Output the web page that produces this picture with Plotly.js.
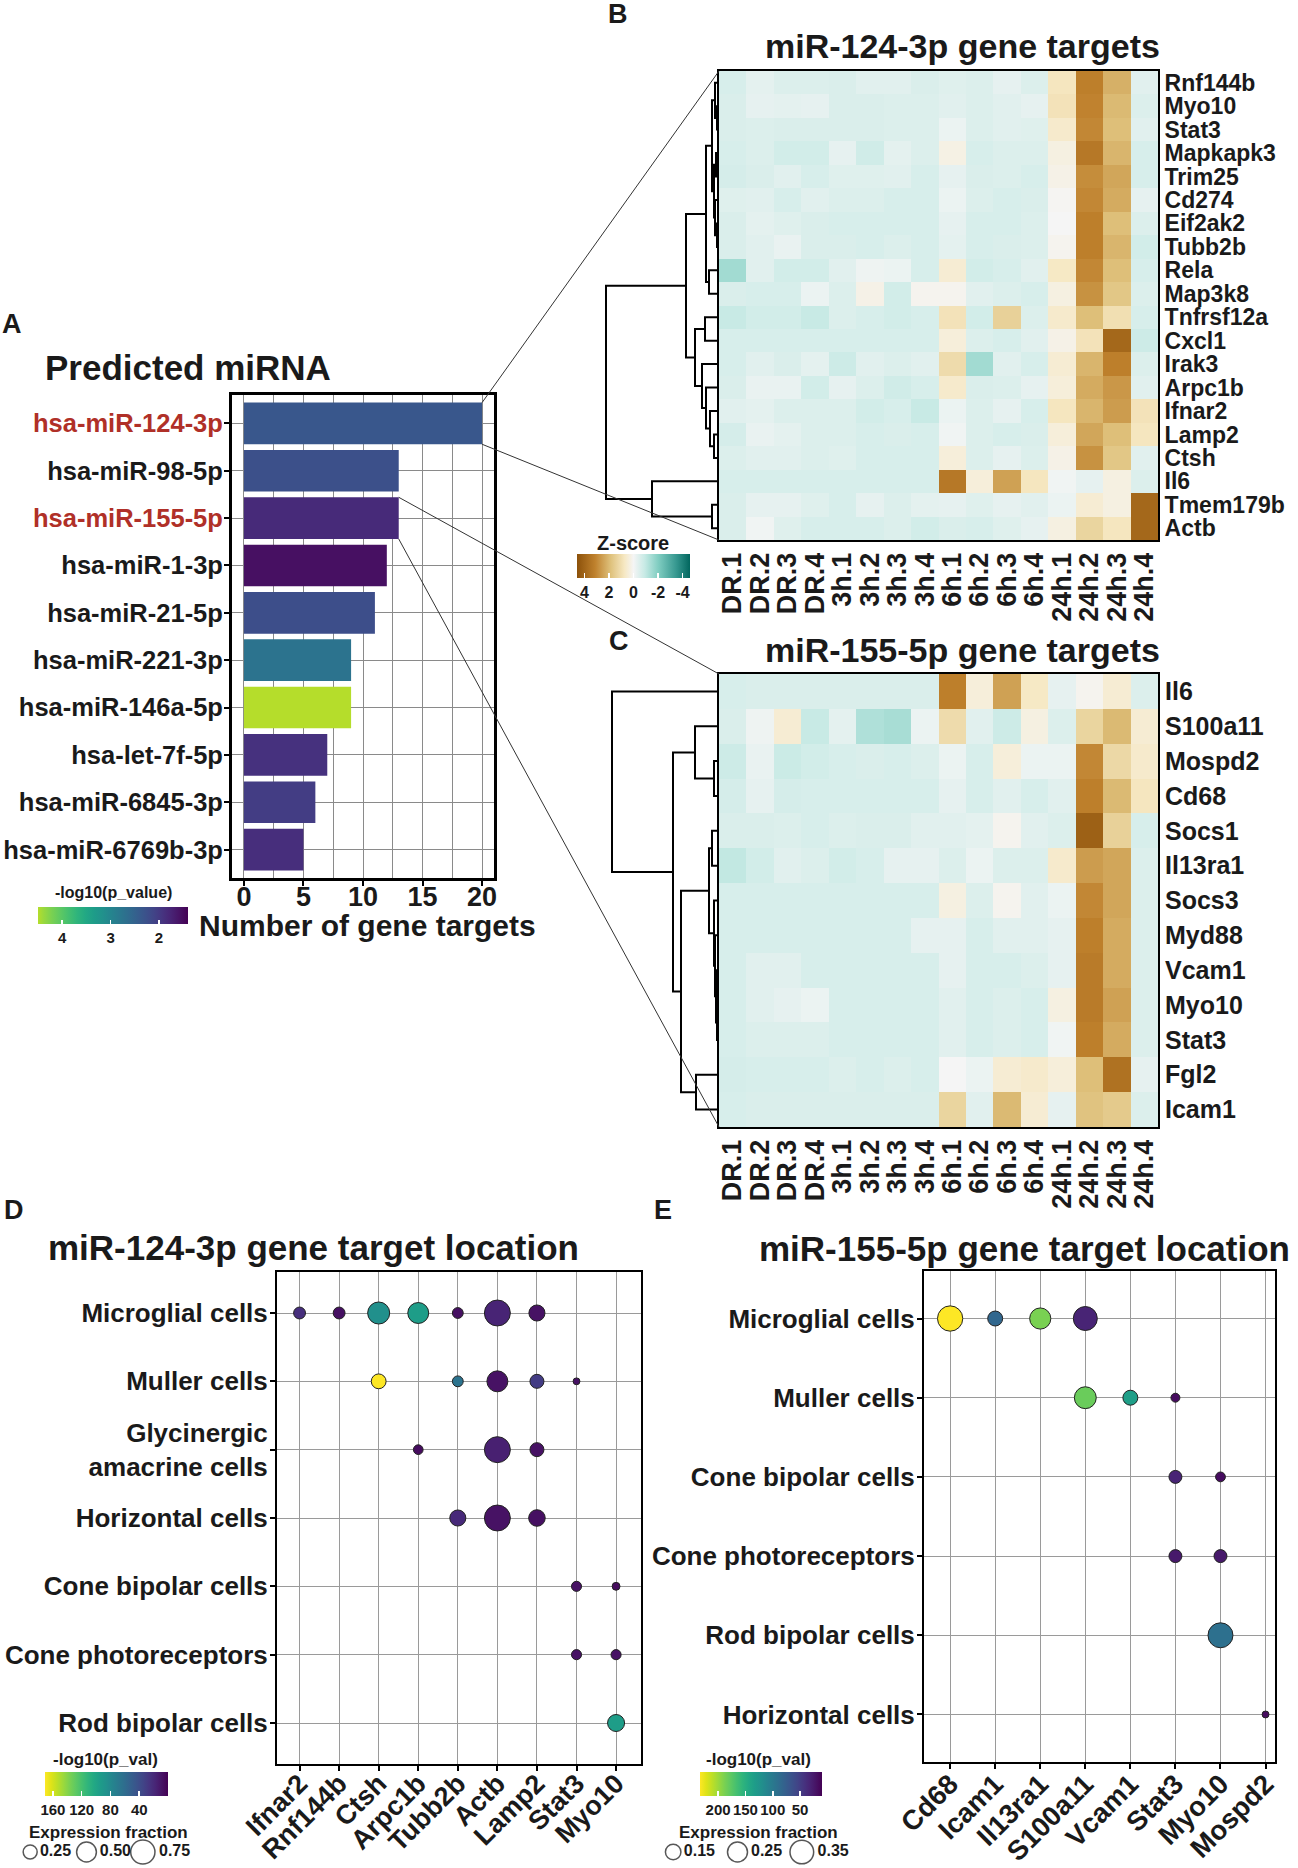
<!DOCTYPE html>
<html><head><meta charset="utf-8">
<script src="https://cdn.plot.ly/plotly-3.0.1.min.js"></script>
<style>html,body{margin:0;padding:0;background:#fff}#chart{width:1298px;height:1868px}</style>
</head><body><div id="chart"></div>
<script>
// ---------------- Panel A: predicted miRNA ----------------
const mirnas = ['hsa-miR-124-3p','hsa-miR-98-5p','hsa-miR-155-5p','hsa-miR-1-3p','hsa-miR-21-5p','hsa-miR-221-3p','hsa-miR-146a-5p','hsa-let-7f-5p','hsa-miR-6845-3p','hsa-miR-6769b-3p'];
const mirnaTargets = [20,13,13,12,11,9,9,7,6,5];
const mirnaLogP = [2.35,2.25,1.82,1.55,2.23,2.74,4.5,1.9,2.03,1.86];
const highlighted = ['hsa-miR-124-3p','hsa-miR-155-5p'];
const targetTicks = [0,5,10,15,20];
const logPTicksA = [4,3,2];

// ---------------- Panels B / C: heatmaps ----------------
const samples = ['DR.1','DR.2','DR.3','DR.4','3h.1','3h.2','3h.3','3h.4','6h.1','6h.2','6h.3','6h.4','24h.1','24h.2','24h.3','24h.4'];
const genesB = ['Rnf144b','Myo10','Stat3','Mapkapk3','Trim25','Cd274','Eif2ak2','Tubb2b','Rela','Map3k8','Tnfrsf12a','Cxcl1','Irak3','Arpc1b','Ifnar2','Lamp2','Ctsh','Il6','Tmem179b','Actb'];
const zB = [
 [-0.6,-0.35,-0.5,-0.5,-0.55,-0.4,-0.4,-0.55,-0.45,-0.5,-0.3,-0.5,0.8,3.2,2.2,-0.4],
 [-0.55,-0.3,-0.35,-0.3,-0.55,-0.55,-0.5,-0.5,-0.4,-0.5,-0.4,-0.3,0.9,3.1,2.0,-0.5],
 [-0.55,-0.5,-0.55,-0.55,-0.55,-0.55,-0.5,-0.5,-0.2,-0.5,-0.4,-0.45,0.6,3.0,1.9,-0.4],
 [-0.6,-0.5,-0.7,-0.7,-0.3,-0.75,-0.35,-0.5,0.25,-0.6,-0.5,-0.5,0.3,3.4,2.1,-0.6],
 [-0.65,-0.55,-0.4,-0.6,-0.45,-0.45,-0.4,-0.6,-0.3,-0.55,-0.5,-0.6,0.2,2.9,2.4,-0.6],
 [-0.45,-0.4,-0.6,-0.4,-0.5,-0.5,-0.6,-0.6,-0.2,-0.5,-0.6,-0.55,0.05,3.0,2.3,-0.3],
 [-0.55,-0.35,-0.45,-0.55,-0.6,-0.6,-0.6,-0.6,-0.3,-0.6,-0.6,-0.5,0.0,3.2,1.9,-0.5],
 [-0.55,-0.4,-0.25,-0.55,-0.55,-0.6,-0.5,-0.6,-0.35,-0.6,-0.55,-0.5,0.1,3.2,2.1,-0.7],
 [-1.5,-0.4,-0.7,-0.7,-0.4,-0.15,-0.2,-0.6,0.5,-0.7,-0.6,-0.4,0.7,3.0,1.9,-0.6],
 [-0.55,-0.6,-0.6,-0.2,-0.5,0.2,-0.7,0.1,0.1,-0.4,-0.5,-0.6,0.3,2.8,1.7,-0.5],
 [-0.9,-0.7,-0.7,-0.9,-0.5,-0.6,-0.7,-0.6,0.9,-0.7,1.4,-0.5,0.6,1.9,1.0,-0.6],
 [-0.6,-0.6,-0.6,-0.6,-0.6,-0.6,-0.6,-0.6,0.4,-0.5,-0.6,-0.4,0.2,0.9,3.9,-0.8],
 [-0.6,-0.4,-0.55,-0.35,-0.8,-0.4,-0.5,-0.4,1.1,-1.5,-0.4,-0.6,0.5,2.1,3.2,-0.5],
 [-0.55,-0.25,-0.25,-0.7,-0.3,-0.5,-0.75,-0.6,0.6,-0.55,-0.5,-0.3,0.4,2.3,2.7,-0.4],
 [-0.4,-0.35,-0.5,-0.5,-0.5,-0.7,-0.6,-0.9,-0.2,-0.5,-0.3,-0.6,0.8,2.1,2.6,0.9],
 [-0.65,-0.25,-0.35,-0.5,-0.5,-0.6,-0.55,-0.6,-0.1,-0.5,-0.6,-0.55,0.4,2.4,1.9,0.8],
 [-0.5,-0.4,-0.4,-0.5,-0.45,-0.6,-0.6,-0.6,0.4,-0.5,-0.3,-0.5,0.2,2.8,1.7,-0.4],
 [-0.6,-0.6,-0.6,-0.6,-0.6,-0.6,-0.6,-0.6,3.4,0.4,2.5,0.8,-0.1,-0.3,0.3,-0.5],
 [-0.55,-0.3,-0.3,-0.45,-0.6,-0.3,-0.5,-0.35,-0.3,-0.45,-0.3,-0.4,-0.2,0.5,0.3,3.9],
 [-0.55,-0.1,-0.45,-0.6,-0.6,-0.6,-0.5,-0.7,-0.55,-0.6,-0.45,-0.3,0.3,1.3,0.8,3.9]
];
const genesC = ['Il6','S100a11','Mospd2','Cd68','Socs1','Il13ra1','Socs3','Myd88','Vcam1','Myo10','Stat3','Fgl2','Icam1'];
const zC = [
 [-0.6,-0.55,-0.55,-0.55,-0.55,-0.55,-0.55,-0.55,3.2,0.4,2.5,0.7,-0.3,0.1,0.5,-0.5],
 [-0.55,-0.15,0.5,-0.9,-0.35,-1.3,-1.4,-0.2,1.1,-0.4,-0.8,0.3,-0.5,1.3,2.0,0.5],
 [-0.8,-0.25,-0.85,-0.7,-0.6,-0.55,-0.6,-0.5,-0.2,-0.6,0.4,-0.2,-0.2,3.0,1.2,0.6],
 [-0.65,-0.3,-0.65,-0.6,-0.6,-0.6,-0.6,-0.6,-0.3,-0.6,-0.4,-0.6,-0.4,3.2,2.0,0.8],
 [-0.55,-0.55,-0.5,-0.6,-0.5,-0.55,-0.55,-0.4,-0.4,-0.35,0.1,-0.4,-0.5,4.1,1.4,-0.6],
 [-1.0,-0.7,-0.4,-0.5,-0.7,-0.6,-0.3,-0.3,-0.5,-0.2,-0.5,-0.5,0.6,2.6,2.4,-0.5],
 [-0.6,-0.6,-0.6,-0.6,-0.6,-0.6,-0.6,-0.6,0.3,-0.5,0.1,-0.4,-0.2,3.0,2.4,-0.5],
 [-0.6,-0.6,-0.6,-0.6,-0.6,-0.6,-0.6,-0.3,-0.3,-0.6,-0.4,-0.4,-0.3,3.2,2.3,-0.5],
 [-0.6,-0.4,-0.4,-0.6,-0.6,-0.6,-0.6,-0.6,-0.3,-0.6,-0.6,-0.5,-0.3,3.3,2.3,-0.5],
 [-0.6,-0.4,-0.3,-0.2,-0.6,-0.6,-0.6,-0.6,-0.4,-0.6,-0.5,-0.6,0.3,3.3,2.5,-0.5],
 [-0.6,-0.5,-0.5,-0.5,-0.6,-0.6,-0.6,-0.6,-0.4,-0.6,-0.5,-0.6,-0.1,3.2,2.3,-0.5],
 [-0.65,-0.6,-0.6,-0.6,-0.5,-0.6,-0.5,-0.6,0.0,-0.2,0.5,0.6,0.4,1.9,3.6,-0.3],
 [-0.6,-0.55,-0.55,-0.55,-0.55,-0.55,-0.55,-0.55,1.3,-0.4,2.0,0.5,-0.3,1.8,1.6,-0.5]
];
const zTicks = [4,2,0,-2,-4];
// row dendrograms (hclust-style merges: negative = row, positive = earlier merge)
const mergeB = [[-2,-3],[-1,1],[-4,-5],[-7,-8],[-6,4],[3,5],[2,6],[-9,-10],[7,8],[-11,-12],[-16,-17],[-15,11],[-14,12],[-13,13],[10,14],[9,15],[-19,-20],[-18,17],[16,18]];
const heightB = [2,4,3,2,4,5,7,10,13,14,5,9,13,17,24,33,7,67,113];
const mergeC = [[-3,-4],[-2,1],[-10,-11],[-9,3],[-8,4],[-7,5],[-5,-6],[7,6],[-12,-13],[8,9],[2,10],[-1,11]];
const heightC = [5,24,2,3,4,5,7,10,23,38,46,107];

// ---------------- Panel D: miR-124-3p target location ----------------
const genesD = ['Ifnar2','Rnf144b','Ctsh','Arpc1b','Tubb2b','Actb','Lamp2','Stat3','Myo10'];
const cellsD = ['Microglial cells','Muller cells','Glycinergic amacrine cells','Horizontal cells','Cone bipolar cells','Cone photoreceptors','Rod bipolar cells'];
const dCell = ['Microglial cells','Microglial cells','Microglial cells','Microglial cells','Microglial cells','Microglial cells','Microglial cells',
  'Muller cells','Muller cells','Muller cells','Muller cells','Muller cells',
  'Glycinergic amacrine cells','Glycinergic amacrine cells','Glycinergic amacrine cells',
  'Horizontal cells','Horizontal cells','Horizontal cells',
  'Cone bipolar cells','Cone bipolar cells','Cone photoreceptors','Cone photoreceptors','Rod bipolar cells'];
const dGene = ['Ifnar2','Rnf144b','Ctsh','Arpc1b','Tubb2b','Actb','Lamp2',
  'Ctsh','Tubb2b','Actb','Lamp2','Stat3',
  'Arpc1b','Actb','Lamp2',
  'Tubb2b','Actb','Lamp2',
  'Stat3','Myo10','Stat3','Myo10','Myo10'];
const dFrac = [0.18,0.18,0.62,0.56,0.15,0.86,0.33, 0.28,0.15,0.56,0.25,0.06, 0.12,0.86,0.25, 0.33,0.86,0.35, 0.13,0.08,0.13,0.13,0.37];
const dLogP = [23,7,85,95,7,17,8, 171,65,8,30,8, 5,15,8, 20,8,7, 8,5,8,8,95];
const pTicksD = [160,120,80,40];
const fracLegendD = [0.25,0.50,0.75];

// ---------------- Panel E: miR-155-5p target location ----------------
const genesE = ['Cd68','Icam1','Il13ra1','S100a11','Vcam1','Stat3','Myo10','Mospd2'];
const cellsE = ['Microglial cells','Muller cells','Cone bipolar cells','Cone photoreceptors','Rod bipolar cells','Horizontal cells'];
const eCell = ['Microglial cells','Microglial cells','Microglial cells','Microglial cells',
  'Muller cells','Muller cells','Muller cells',
  'Cone bipolar cells','Cone bipolar cells','Cone photoreceptors','Cone photoreceptors',
  'Rod bipolar cells','Horizontal cells'];
const eGene = ['Cd68','Icam1','Il13ra1','S100a11','S100a11','Vcam1','Stat3','Stat3','Myo10','Stat3','Myo10','Myo10','Mospd2'];
const eFrac = [0.40,0.14,0.28,0.36, 0.30,0.14,0.05, 0.105,0.06,0.105,0.105, 0.39,0.03];
const eLogP = [233,84,188,32, 182,135,17, 32,17,25,25, 92,17];
const pTicksE = [200,150,100,50];
const fracLegendE = [0.15,0.25,0.35];

// ================= layout helpers =================
const W = 1298, H = 1868;
const XD = (a,b)=>[a/W, b/W];
const YD = (t,b)=>[1-b/H, 1-t/H];
const FONT = 'Liberation Sans, Arial, Helvetica, sans-serif';
const INK = '#1a1a1a';
const fnt = (s, c)=>({family:FONT, size:s, color:c||INK, weight:'bold'});
const RED = '#b03028';
const viridis = [[0,'#440154'],[0.05,'#471365'],[0.1,'#482475'],[0.15,'#463480'],[0.2,'#414487'],[0.25,'#3b528b'],[0.3,'#355f8d'],[0.35,'#2f6c8e'],[0.4,'#2a788e'],[0.45,'#25848e'],[0.5,'#21918c'],[0.55,'#1e9c89'],[0.6,'#22a884'],[0.65,'#2fb47c'],[0.7,'#44bf70'],[0.75,'#5ec962'],[0.8,'#7ad151'],[0.85,'#9bd93c'],[0.9,'#bddf26'],[0.95,'#dfe318'],[1,'#fde725']];
const rev = cs => cs.map(([t,c])=>[1-t,c]).reverse();
const viridisA = viridis.filter(p=>p[0]<=0.85).map(([t,c])=>[t/0.88,c]).concat([[1,'#b5dd2b']]);
const brbg = [[0,'#01665e'],[0.12,'#35978f'],[0.28,'#80cdc1'],[0.4,'#c7eae5'],[0.5,'#f5f5f5'],[0.58,'#f6e8c3'],[0.7,'#dfc27d'],[0.84,'#bf812d'],[1,'#8c510a']];

// geometry (px)
const A = {l:232, r:494, t:395, b:878, xr:[-1,21], yr:[9.6,-0.6]};
const HB = {l:719, r:1158, t:71, b:540};
const HC = {l:719, r:1158, t:674, b:1127};
const DEN = {l:599, range:[120,0]};
const PD = {l:277, r:641, t:1272, b:1764, xr:[-0.57,8.63]};
const PE = {l:924, r:1275, t:1271, b:1762, xr:[-0.58,7.21]};

function dendro(merge, height){
  const pos = [], xs = [], ys = [];
  const node = c => c<0 ? {y:-c, h:0} : {y:pos[c-1], h:height[c-1]};
  merge.forEach((m,i)=>{
    const a = node(m[0]), b = node(m[1]), h = height[i];
    xs.push(a.h,h,h,b.h,null); ys.push(a.y,a.y,b.y,b.y,null);
    pos[i] = (a.y+b.y)/2;
  });
  return {xs, ys};
}
const dB = dendro(mergeB, heightB), dC = dendro(mergeC, heightC);
const idx = arr => arr.map((_,i)=>i);

const traces = [];
// A bars
traces.push({type:'bar', orientation:'h', x:mirnaTargets, y:idx(mirnas), width:0.88, xaxis:'x', yaxis:'y',
  hoverinfo:'skip',
  marker:{color:mirnaLogP.map(v=>-v), colorscale:rev(viridisA), cmin:-4.5, cmax:-1.4, line:{width:0}, showscale:true,
    colorbar:{orientation:'h', x:38/W, xanchor:'left', y:1-907/H, yanchor:'top', len:150, lenmode:'pixels', thickness:17,
      tickvals:logPTicksA.map(v=>-v), ticktext:logPTicksA.map(String), ticks:'inside', tickcolor:'#fff', ticklen:4, tickwidth:1.5,
      outlinewidth:0, xpad:0, ypad:0, tickfont:fnt(15)}}});
// B heatmap
traces.push({type:'heatmap', z:zB.map(r=>r.map(v=>-v)), x:idx(samples), y:genesB.map((_,i)=>i+1), xaxis:'x2', yaxis:'y2',
  colorscale:rev(brbg), zmin:-4.6, zmax:4.6, hoverinfo:'skip', showscale:true,
  colorbar:{orientation:'h', x:577/W, xanchor:'left', y:1-554/H, yanchor:'top', len:113, lenmode:'pixels', thickness:24,
    tickvals:zTicks.map(v=>-v), ticktext:zTicks.map(String), ticks:'inside', tickcolor:'#fff', ticklen:5, tickwidth:1.5,
    outlinewidth:0, xpad:0, ypad:0, tickfont:fnt(16)}});
traces.push({type:'scatter', mode:'lines', x:dB.xs, y:dB.ys, xaxis:'x3', yaxis:'y3', line:{color:'#000', width:2}, hoverinfo:'skip'});
// C heatmap
traces.push({type:'heatmap', z:zC.map(r=>r.map(v=>-v)), x:idx(samples), y:genesC.map((_,i)=>i+1), xaxis:'x4', yaxis:'y4',
  colorscale:rev(brbg), zmin:-4.6, zmax:4.6, hoverinfo:'skip', showscale:false});
traces.push({type:'scatter', mode:'lines', x:dC.xs, y:dC.ys, xaxis:'x5', yaxis:'y5', line:{color:'#000', width:2}, hoverinfo:'skip'});
// D dots
const SREF_D = 2*0.25/196, SREF_E = 2*0.25/400;
traces.push({type:'scatter', mode:'markers', x:dGene.map(g=>genesD.indexOf(g)), y:dCell.map(c=>cellsD.indexOf(c)), xaxis:'x6', yaxis:'y6', hoverinfo:'skip',
  marker:{size:dFrac, sizemode:'area', sizeref:SREF_D, color:dLogP.map(v=>-v), colorscale:rev(viridis), cmin:-171, cmax:0,
    line:{color:'#222', width:1}, opacity:1, showscale:true,
    colorbar:{orientation:'h', x:45/W, xanchor:'left', y:1-1772/H, yanchor:'top', len:123, lenmode:'pixels', thickness:24,
      tickvals:pTicksD.map(v=>-v), ticktext:pTicksD.map(String), ticks:'inside', tickcolor:'#fff', ticklen:5, tickwidth:1.5,
      outlinewidth:0, xpad:0, ypad:0, tickfont:fnt(15)}}});
// E dots
traces.push({type:'scatter', mode:'markers', x:eGene.map(g=>genesE.indexOf(g)), y:eCell.map(c=>cellsE.indexOf(c)), xaxis:'x7', yaxis:'y7', hoverinfo:'skip',
  marker:{size:eFrac, sizemode:'area', sizeref:SREF_E, color:eLogP.map(v=>-v), colorscale:rev(viridis), cmin:-233, cmax:-10,
    line:{color:'#222', width:1}, opacity:1, showscale:true,
    colorbar:{orientation:'h', x:700/W, xanchor:'left', y:1-1772/H, yanchor:'top', len:122, lenmode:'pixels', thickness:24,
      tickvals:pTicksE.map(v=>-v), ticktext:pTicksE.map(String), ticks:'inside', tickcolor:'#fff', ticklen:5, tickwidth:1.5,
      outlinewidth:0, xpad:0, ypad:0, tickfont:fnt(15)}}});
// size legends
traces.push({type:'scatter', mode:'markers+text', x:idx(fracLegendD), y:fracLegendD.map(()=>0), xaxis:'x8', yaxis:'y8', hoverinfo:'skip',
  text:fracLegendD.map(v=>v.toFixed(2)), textposition:'middle right', textfont:fnt(16), cliponaxis:false,
  marker:{size:fracLegendD, sizemode:'area', sizeref:SREF_D, color:'#fff', line:{color:'#111', width:1.5}}});
traces.push({type:'scatter', mode:'markers+text', x:idx(fracLegendE), y:fracLegendE.map(()=>0), xaxis:'x9', yaxis:'y9', hoverinfo:'skip',
  text:fracLegendE.map(v=>v.toFixed(2)), textposition:'middle right', textfont:fnt(16), cliponaxis:false,
  marker:{size:fracLegendE, sizemode:'area', sizeref:SREF_E, color:'#fff', line:{color:'#111', width:1.5}}});

const hidden = (dom, rng, anchor) => ({domain:dom, range:rng, anchor:anchor, visible:false, fixedrange:true});
const GRID = '#9a9a9a';

const layout = {
  width:W, height:H, margin:{l:0,r:0,t:0,b:0}, autosize:false, showlegend:false, hovermode:false,
  paper_bgcolor:'#fff', plot_bgcolor:'#fff', font:{family:FONT, color:INK},
  // A
  xaxis:{domain:XD(A.l,A.r), range:A.xr, anchor:'y', tickmode:'array', tickvals:targetTicks, ticks:'outside', ticklen:5, tickwidth:2, tickcolor:'#000',
    tickfont:fnt(27), ticklabelstandoff:-12, showgrid:true, gridcolor:'#8a8a8a', gridwidth:1, minor:{dtick:2.5, tick0:0, showgrid:true, gridcolor:'#8a8a8a', gridwidth:1},
    zeroline:false, showline:true, mirror:true, linecolor:'#000', linewidth:3},
  yaxis:{domain:YD(A.t,A.b), range:A.yr, anchor:'x', tickmode:'array', tickvals:idx(mirnas),
    ticktext:mirnas.map(m=>highlighted.includes(m)?`<span style="color:${RED}">${m}</span>`:m),
    tickfont:fnt(25.5), ticklabelstandoff:-4, ticks:'outside', ticklen:5, tickwidth:2, tickcolor:'#000', showgrid:true, gridcolor:'#8a8a8a', gridwidth:1,
    zeroline:false, showline:true, mirror:true, linecolor:'#000', linewidth:3},
  // B heatmap
  xaxis2:{domain:XD(HB.l,HB.r), anchor:'y2', range:[-0.5,samples.length-0.5], tickmode:'array', tickvals:idx(samples), ticktext:samples,
    tickangle:-90, tickfont:fnt(27), ticks:'', showgrid:false, zeroline:false, showline:true, mirror:true, linecolor:'#000', linewidth:2},
  yaxis2:{domain:YD(HB.t,HB.b), anchor:'x2', range:[genesB.length+0.5,0.5], side:'right', tickmode:'array', tickvals:genesB.map((_,i)=>i+1), ticktext:genesB,
    tickfont:fnt(23), ticks:'', showgrid:false, zeroline:false, showline:true, mirror:true, linecolor:'#000', linewidth:2},
  xaxis3:hidden(XD(DEN.l,HB.l), DEN.range, 'y3'),
  yaxis3:hidden(YD(HB.t,HB.b), [genesB.length+0.5,0.5], 'x3'),
  // C heatmap
  xaxis4:{domain:XD(HC.l,HC.r), anchor:'y4', range:[-0.5,samples.length-0.5], tickmode:'array', tickvals:idx(samples), ticktext:samples,
    tickangle:-90, tickfont:fnt(27), ticks:'', showgrid:false, zeroline:false, showline:true, mirror:true, linecolor:'#000', linewidth:2},
  yaxis4:{domain:YD(HC.t,HC.b), anchor:'x4', range:[genesC.length+0.5,0.5], side:'right', tickmode:'array', tickvals:genesC.map((_,i)=>i+1), ticktext:genesC,
    tickfont:fnt(25), ticks:'', showgrid:false, zeroline:false, showline:true, mirror:true, linecolor:'#000', linewidth:2},
  xaxis5:hidden(XD(DEN.l,HC.l), DEN.range, 'y5'),
  yaxis5:hidden(YD(HC.t,HC.b), [genesC.length+0.5,0.5], 'x5'),
  // D
  xaxis6:{domain:XD(PD.l,PD.r), anchor:'y6', range:PD.xr, tickmode:'array', tickvals:idx(genesD), ticktext:genesD, tickangle:-45,
    tickfont:fnt(27), ticklabelstandoff:-14, ticks:'outside', ticklen:5, tickwidth:2, tickcolor:'#000', showgrid:true, gridcolor:GRID, gridwidth:1, zeroline:false,
    showline:true, mirror:true, linecolor:'#000', linewidth:2},
  yaxis6:{domain:YD(PD.t,PD.b), anchor:'x6', range:[cellsD.length-0.4,-0.6], tickmode:'array', tickvals:idx(cellsD),
    ticktext:cellsD.map(c=>c.replace('Glycinergic ','Glycinergic<br>')),
    tickfont:fnt(26), ticklabelstandoff:-3, ticks:'outside', ticklen:5, tickwidth:2, tickcolor:'#000', showgrid:true, gridcolor:GRID, gridwidth:1, zeroline:false,
    showline:true, mirror:true, linecolor:'#000', linewidth:2},
  // E
  xaxis7:{domain:XD(PE.l,PE.r), anchor:'y7', range:PE.xr, tickmode:'array', tickvals:idx(genesE), ticktext:genesE, tickangle:-45,
    tickfont:fnt(27.5), ticklabelstandoff:-12, ticks:'outside', ticklen:5, tickwidth:2, tickcolor:'#000', showgrid:true, gridcolor:GRID, gridwidth:1, zeroline:false,
    showline:true, mirror:true, linecolor:'#000', linewidth:2},
  yaxis7:{domain:YD(PE.t,PE.b), anchor:'x7', range:[cellsE.length-0.4,-0.6], tickmode:'array', tickvals:idx(cellsE), ticktext:cellsE,
    tickfont:fnt(26), ticklabelstandoff:-3, ticks:'outside', ticklen:5, tickwidth:2, tickcolor:'#000', showgrid:true, gridcolor:GRID, gridwidth:1, zeroline:false,
    showline:true, mirror:true, linecolor:'#000', linewidth:2},
  // size legends
  xaxis8:hidden(XD(2,171), [-0.5,2.5], 'y8'),
  yaxis8:hidden(YD(1842,1862), [-1,1], 'x8'),
  xaxis9:hidden(XD(641,834), [-0.5,2.5], 'y9'),
  yaxis9:hidden(YD(1842,1862), [-1,1], 'x9'),
  annotations:[],
  shapes:[]
};

const ann = (text, x, y, size, xanchor) => layout.annotations.push({text:text, x:x/W, y:1-y/H, xref:'paper', yref:'paper',
  xanchor:xanchor||'center', yanchor:'middle', showarrow:false, font:fnt(size)});
ann('A', 0, 324, 27, 'left'); ann('B', 606, 14, 27, 'left'); ann('C', 607, 641, 27, 'left');
ann('D', 2, 1210, 27, 'left'); ann('E', 652, 1210, 27, 'left');
ann('Predicted miRNA', 188, 368, 35);
ann('miR-124-3p gene targets', 962, 46, 34);
ann('miR-155-5p gene targets', 962, 650, 34);
ann('miR-124-3p gene target location', 313, 1247, 35);
ann('miR-155-5p gene target location', 1024, 1248, 35);
ann('Number of gene targets', 367, 926, 30);
ann('-log10(p_value)', 113, 893, 16);
ann('Z-score', 633, 543, 20);
ann('-log10(p_val)', 106, 1759, 17);
ann('-log10(p_val)', 758, 1759, 17);
ann('Expression fraction', 108, 1832, 17);
ann('Expression fraction', 758, 1832, 17);

// zoom lines from bars to heatmaps
const ax = v => A.l + (v-A.xr[0])/(A.xr[1]-A.xr[0])*(A.r-A.l);
const ay = v => A.t + (v-A.yr[1])/(A.yr[0]-A.yr[1])*(A.b-A.t);
const link = (x0,y0,x1,y1) => layout.shapes.push({type:'line', xref:'paper', yref:'paper', x0:x0/W, y0:1-y0/H, x1:x1/W, y1:1-y1/H, line:{color:'#333', width:1}});
const iB = mirnas.indexOf('hsa-miR-124-3p'), iC = mirnas.indexOf('hsa-miR-155-5p');
link(ax(mirnaTargets[iB]), ay(iB-0.44), HB.l, HB.t);
link(ax(mirnaTargets[iB]), ay(iB+0.44), HB.l, HB.b);
link(ax(mirnaTargets[iC]), ay(iC-0.44), HC.l, HC.t);
link(ax(mirnaTargets[iC]), ay(iC+0.44), HC.l, HC.b);

Plotly.newPlot('chart', traces, layout, {displayModeBar:false, staticPlot:true});
</script></body></html>
